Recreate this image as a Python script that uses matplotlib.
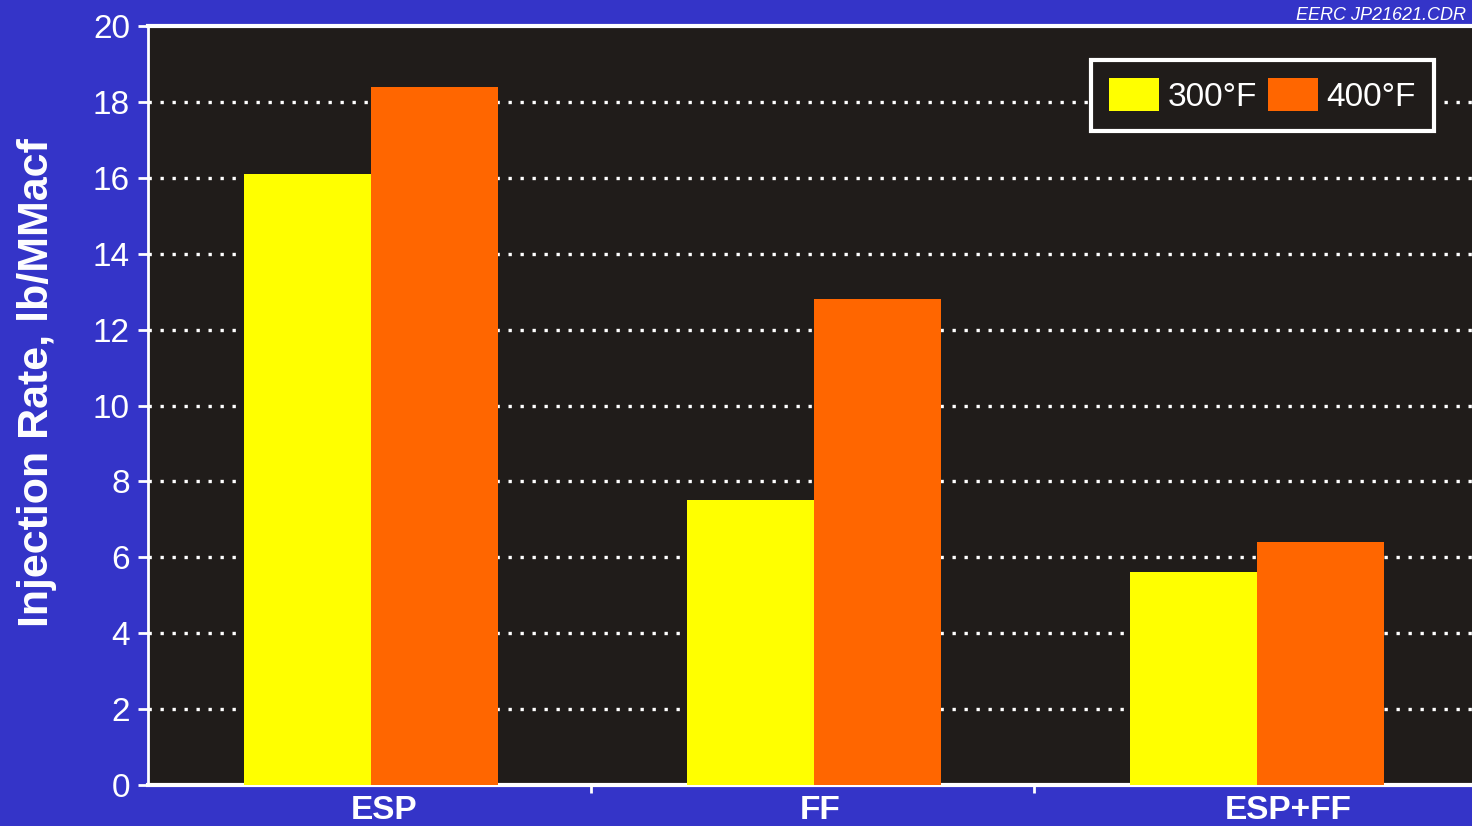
import matplotlib.pyplot as plt
import numpy as np

categories = ['ESP', 'FF', 'ESP+FF']
series_names = ['300°F', '400°F']
vals_300 = [16.1, 7.5, 5.6]
vals_400 = [18.4, 12.8, 6.4]
yticks = [0, 2, 4, 6, 8, 10, 12, 14, 16, 18, 20]
label_shift = [0.032, 0.018, 0.075]  # category labels sit a bit right of the bar groups

plt.rcParams['font.family'] = ['Liberation Sans', 'DejaVu Sans']

bg = '#3434c8'
axbg = '#201c1a'
yellow = '#ffff00'
orange = '#ff6600'

fig = plt.figure(figsize=(14.72, 8.26), dpi=100, facecolor=bg)
ax = fig.add_axes([148 / 1472, 1 - 785 / 826, 1 - 148 / 1472, (785 - 26) / 826])
ax.set_facecolor(axbg)

x = np.arange(len(categories))
w = 0.287
ax.bar(x - w / 2 + 0.004, vals_300, w, color=yellow, label=series_names[0], zorder=3)
ax.bar(x + w / 2 + 0.004, vals_400, w, color=orange, label=series_names[1], zorder=3)

ax.set_xlim(-0.5, 2.489)
ax.set_ylim(0, 20)
ax.set_yticks(yticks)
ax.set_xticks(x + np.array(label_shift))
ax.set_xticklabels(categories, fontsize=24, fontweight='bold', color='white')
ax.set_xticks([0.5, 1.5], minor=True)
ax.tick_params(axis='x', which='major', length=0, pad=7)
ax.tick_params(axis='x', which='minor', length=6, width=2, color='white', direction='out')
ax.tick_params(axis='y', length=7, width=2, color='white', labelcolor='white',
               labelsize=24, pad=6)

for yv in yticks[1:-1]:
    ax.axhline(yv, color='white', lw=2.4, ls=(0, (1, 2.6)), zorder=1)

for s in ['top', 'bottom']:
    ax.spines[s].set_color('white')
    ax.spines[s].set_linewidth(3)
ax.spines['left'].set_color('white')
ax.spines['left'].set_linewidth(2)
ax.spines['right'].set_visible(False)

ax.set_ylabel('Injection Rate, lb/MMacf', fontsize=31, fontweight='bold',
              color='white')
ax.yaxis.set_label_coords(-0.069, 0.53)

leg = ax.legend(loc='upper right', bbox_to_anchor=(0.9715, 0.9555), ncol=2,
                fontsize=24, frameon=True, fancybox=False, handlelength=1.5,
                handleheight=1.15, handletextpad=0.27, columnspacing=0.3,
                borderpad=0.55, borderaxespad=0)
leg.get_frame().set_facecolor(axbg)
leg.get_frame().set_edgecolor('white')
leg.get_frame().set_linewidth(3)
leg.get_frame().set_alpha(1)
for t in leg.get_texts():
    t.set_color('white')

fig.text(0.996, 0.992, 'EERC JP21621.CDR', color='white', fontsize=13,
         style='italic', ha='right', va='top')

fig.savefig('out.png', dpi=100, facecolor=bg)
